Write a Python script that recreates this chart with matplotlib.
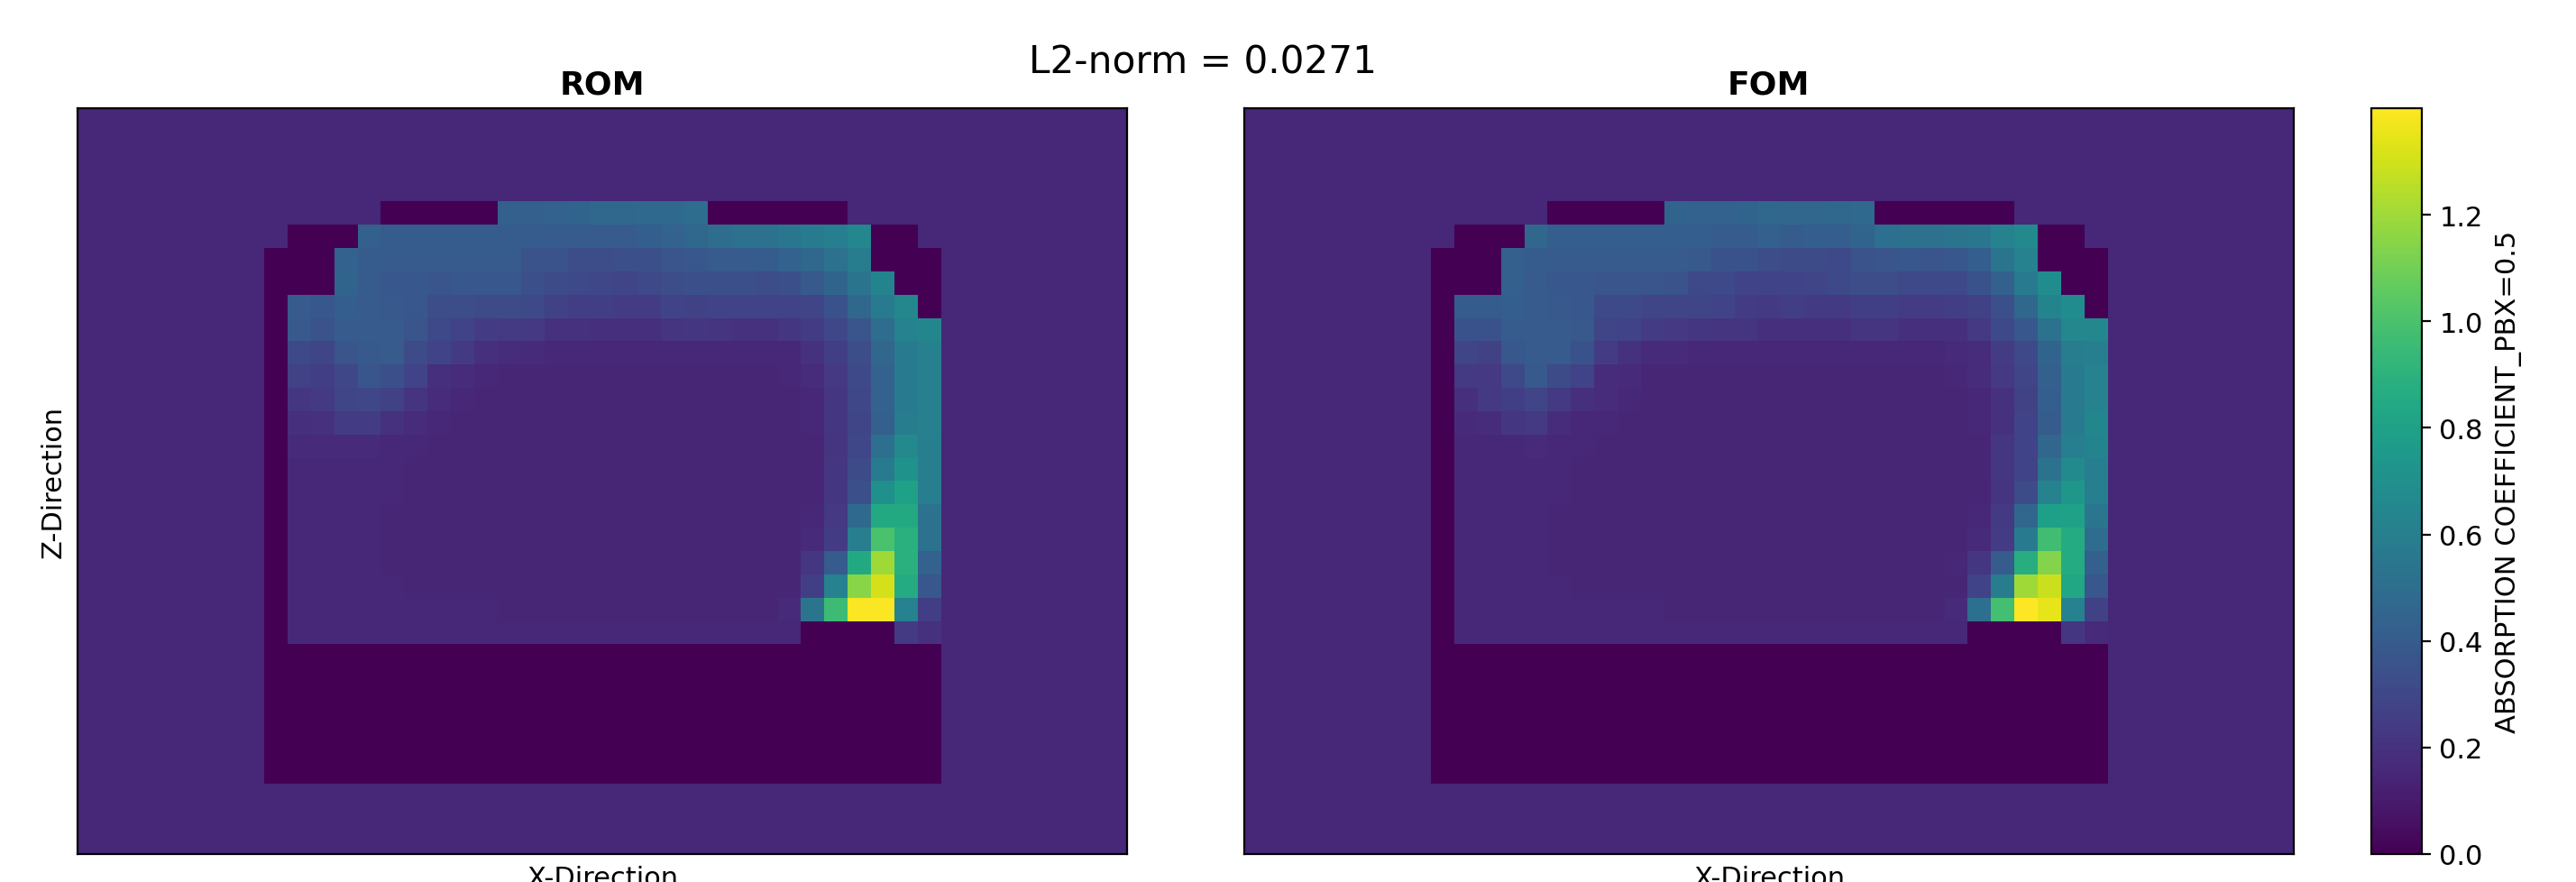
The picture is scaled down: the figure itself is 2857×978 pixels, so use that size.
import matplotlib
matplotlib.use('Agg')
import matplotlib.pyplot as plt
import numpy as np

# background / void level of the flux map
BG = 0.155
D = 0.0

# active rows only (19 rows x 29 columns), the rest of the map is padded with BG
rom_rows = [
    [BG, BG, BG, BG, BG, D, D, D, D, D, .43, .43, .44, .45, .47, .47, .48, .48, .50, D, D, D, D, D, D, BG, BG, BG, BG],
    [BG, D, D, D, .43, .41, .41, .41, .41, .41, .41, .41, .41, .40, .40, .40, .42, .44, .47, .50, .52, .53, .55, .57, .60, .65, D, D, BG],
    [D, D, D, .44, .41, .40, .40, .40, .40, .40, .40, .36, .36, .33, .33, .34, .34, .37, .38, .40, .40, .41, .44, .47, .52, .59, D, D, D],
    [D, D, D, .45, .41, .38, .38, .37, .38, .38, .38, .34, .32, .31, .30, .29, .31, .33, .34, .34, .34, .33, .34, .39, .45, .54, .63, D, D],
    [D, .40, .38, .42, .40, .39, .38, .33, .33, .32, .32, .31, .27, .26, .26, .25, .25, .28, .27, .28, .28, .28, .28, .29, .35, .47, .57, .65, D],
    [D, .39, .36, .40, .40, .40, .37, .31, .28, .25, .24, .23, .20, .20, .19, .19, .19, .21, .22, .21, .20, .20, .22, .25, .30, .37, .50, .62, .64],
    [D, .31, .29, .37, .39, .40, .32, .28, .24, .19, .18, .17, .155, .155, .155, .155, .155, .155, .155, .155, .155, .155, .16, .20, .26, .33, .46, .58, .61],
    [D, .27, .26, .30, .37, .34, .28, .19, .18, .155, .15, .15, .15, .15, .15, .15, .15, .15, .15, .15, .15, .15, .155, .18, .23, .31, .44, .58, .61],
    [D, .22, .24, .29, .30, .27, .21, .18, .16, .15, .15, .15, .15, .15, .15, .15, .15, .15, .15, .15, .15, .15, .15, .155, .22, .30, .44, .58, .61],
    [D, .19, .20, .25, .25, .20, .18, .155, .15, .15, .15, .15, .15, .15, .15, .15, .15, .15, .15, .15, .15, .15, .15, .155, .22, .29, .43, .59, .61],
    [D, .17, .17, .17, .17, .16, .155, .15, .15, .15, .15, .15, .15, .15, .15, .15, .15, .15, .15, .15, .15, .15, .15, .15, .21, .30, .51, .66, .60],
    [D, .155, .155, .155, .155, .155, .15, .15, .15, .15, .15, .15, .15, .15, .15, .15, .15, .15, .15, .15, .15, .15, .15, .15, .22, .32, .57, .72, .60],
    [D, .155, .155, .155, .155, .155, .15, .15, .15, .15, .15, .15, .15, .15, .15, .15, .15, .15, .15, .15, .15, .15, .15, .15, .22, .34, .70, .80, .60],
    [D, .155, .155, .155, .155, .15, .15, .15, .15, .15, .15, .15, .15, .15, .15, .15, .15, .15, .15, .15, .15, .15, .15, .155, .23, .48, .85, .85, .53],
    [D, .155, .155, .155, .155, .15, .15, .15, .15, .15, .15, .15, .15, .15, .15, .15, .15, .15, .15, .15, .15, .15, .15, .17, .25, .60, 1.00, .89, .53],
    [D, .155, .155, .155, .155, .15, .15, .15, .15, .15, .15, .15, .15, .15, .15, .15, .15, .15, .15, .15, .15, .15, .15, .22, .41, .85, 1.20, .89, .44],
    [D, .155, .155, .155, .155, .155, .15, .15, .15, .15, .15, .15, .15, .15, .15, .15, .15, .15, .15, .15, .15, .15, .15, .26, .62, 1.15, 1.31, .86, .38],
    [D, .155, .155, .155, .155, .155, .155, .155, .155, .155, .15, .15, .15, .15, .15, .15, .15, .15, .15, .15, .15, .15, .17, .54, .96, 1.39, 1.39, .62, .26],
    [D, .155, .155, .155, .155, .155, .155, .155, .155, .155, .155, .155, .155, .155, .155, .155, .155, .155, .155, .155, .155, .155, .155, D, D, D, D, .24, .20],
]

fom_rows = [
    [BG, BG, BG, BG, BG, D, D, D, D, D, .45, .44, .44, .45, .47, .46, .46, .47, .48, D, D, D, D, D, D, BG, BG, BG, BG],
    [BG, D, D, D, .46, .42, .42, .42, .42, .42, .42, .42, .41, .41, .43, .41, .42, .42, .45, .51, .52, .53, .54, .55, .62, .66, D, D, BG],
    [D, D, D, .43, .41, .40, .40, .40, .40, .40, .40, .39, .35, .35, .33, .32, .32, .31, .36, .37, .38, .37, .38, .42, .54, .62, D, D, D],
    [D, D, D, .43, .40, .38, .38, .37, .37, .37, .36, .31, .31, .28, .28, .28, .29, .31, .33, .33, .31, .31, .31, .35, .43, .57, .68, D, D],
    [D, .41, .41, .42, .40, .39, .38, .31, .31, .29, .29, .29, .28, .25, .24, .26, .24, .24, .26, .26, .25, .25, .26, .27, .34, .47, .63, .68, D],
    [D, .35, .35, .41, .40, .40, .39, .29, .28, .25, .23, .22, .21, .21, .19, .19, .19, .19, .21, .21, .19, .19, .19, .23, .31, .38, .52, .65, .65],
    [D, .29, .27, .38, .40, .40, .35, .25, .20, .17, .17, .155, .155, .155, .155, .155, .155, .155, .155, .155, .155, .155, .17, .18, .25, .31, .45, .59, .60],
    [D, .24, .23, .31, .39, .32, .28, .18, .17, .15, .15, .15, .15, .15, .15, .15, .15, .15, .15, .15, .15, .15, .16, .18, .23, .29, .43, .58, .62],
    [D, .19, .23, .26, .29, .24, .19, .18, .155, .15, .15, .15, .15, .15, .15, .15, .15, .15, .15, .15, .15, .15, .15, .155, .20, .27, .42, .58, .62],
    [D, .17, .18, .22, .24, .18, .16, .155, .15, .15, .15, .15, .15, .15, .15, .15, .15, .15, .15, .15, .15, .15, .15, .155, .20, .28, .41, .57, .64],
    [D, .155, .155, .16, .17, .16, .155, .15, .15, .15, .15, .15, .15, .15, .15, .15, .15, .15, .15, .15, .15, .15, .15, .15, .22, .28, .46, .60, .63],
    [D, .155, .155, .155, .155, .155, .15, .15, .15, .15, .15, .15, .15, .15, .15, .15, .15, .15, .15, .15, .15, .15, .15, .15, .22, .28, .52, .67, .60],
    [D, .155, .155, .155, .155, .155, .15, .15, .15, .15, .15, .15, .15, .15, .15, .15, .15, .15, .15, .15, .15, .15, .15, .15, .21, .32, .62, .74, .60],
    [D, .155, .155, .155, .155, .15, .15, .15, .15, .15, .15, .15, .15, .15, .15, .15, .15, .15, .15, .15, .15, .15, .15, .155, .24, .46, .79, .80, .55],
    [D, .155, .155, .155, .155, .15, .15, .15, .15, .15, .15, .15, .15, .15, .15, .15, .15, .15, .15, .15, .15, .15, .15, .17, .25, .58, .97, .86, .50],
    [D, .155, .155, .155, .155, .15, .15, .15, .15, .15, .15, .15, .15, .15, .15, .15, .15, .15, .15, .15, .15, .15, .155, .22, .41, .87, 1.14, .86, .43],
    [D, .155, .155, .155, .155, .155, .15, .15, .15, .15, .15, .15, .15, .15, .15, .15, .15, .15, .15, .15, .15, .15, .15, .28, .59, 1.20, 1.29, .84, .38],
    [D, .155, .155, .155, .155, .155, .155, .155, .155, .155, .15, .15, .15, .15, .15, .15, .15, .15, .15, .15, .15, .15, .17, .51, .98, 1.395, 1.35, .62, .27],
    [D, .155, .155, .155, .155, .155, .155, .155, .155, .155, .155, .155, .155, .155, .155, .155, .155, .155, .155, .155, .155, .155, .155, D, D, D, D, .22, .17],
]

# reflector row block below the core: 6 dark rows over the core width
dark_rows = 6
cbar_ticks = [0.0, 0.2, 0.4, 0.6, 0.8, 1.0, 1.2]
vmax = 1.4
W, H = 2857, 979


def build_map(rows):
    """Pad the active rows out to the full 32 x 45 map"""
    core = np.vstack([np.array(rows), np.zeros((dark_rows, 29))])
    return np.pad(core, ((4, 3), (8, 8)), constant_values=BG)


def add_axes_px(fig, x0, y0, x1, y1):
    return fig.add_axes([x0 / W, 1 - y1 / H, (x1 - x0) / W, (y1 - y0) / H])


fig = plt.figure(figsize=(W / 200, H / 200), dpi=200)
ax1 = add_axes_px(fig, 85.5, 121, 1250, 948)
ax2 = add_axes_px(fig, 1379.5, 121, 2544, 948)
cax = add_axes_px(fig, 2630, 121, 2686, 948)

im = ax1.imshow(build_map(rom_rows), cmap='viridis', vmin=0, vmax=vmax,
                aspect='auto', interpolation='nearest')
ax2.imshow(build_map(fom_rows), cmap='viridis', vmin=0, vmax=vmax,
           aspect='auto', interpolation='nearest')

for ax, name in [(ax1, 'ROM'), (ax2, 'FOM')]:
    ax.set_xticks([])
    ax.set_yticks([])
    ax.set_title(name, fontsize=13, fontweight='bold', pad=6)
    ax.set_xlabel('X-Direction', fontsize=11, labelpad=4.5)
ax1.set_ylabel('Z-Direction', fontsize=11, labelpad=4.2)

cbar = fig.colorbar(im, cax=cax, ticks=cbar_ticks)
cbar.ax.tick_params(labelsize=11)
cbar.set_label('ABSORPTION COEFFICIENT_PBX=0.5', fontsize=11, labelpad=5)

fig.text(1334 / W, 1 - 69 / H, 'L2-norm = 0.0271', fontsize=15.2,
         ha='center', va='center')

fig.savefig('out.png', dpi=200)
